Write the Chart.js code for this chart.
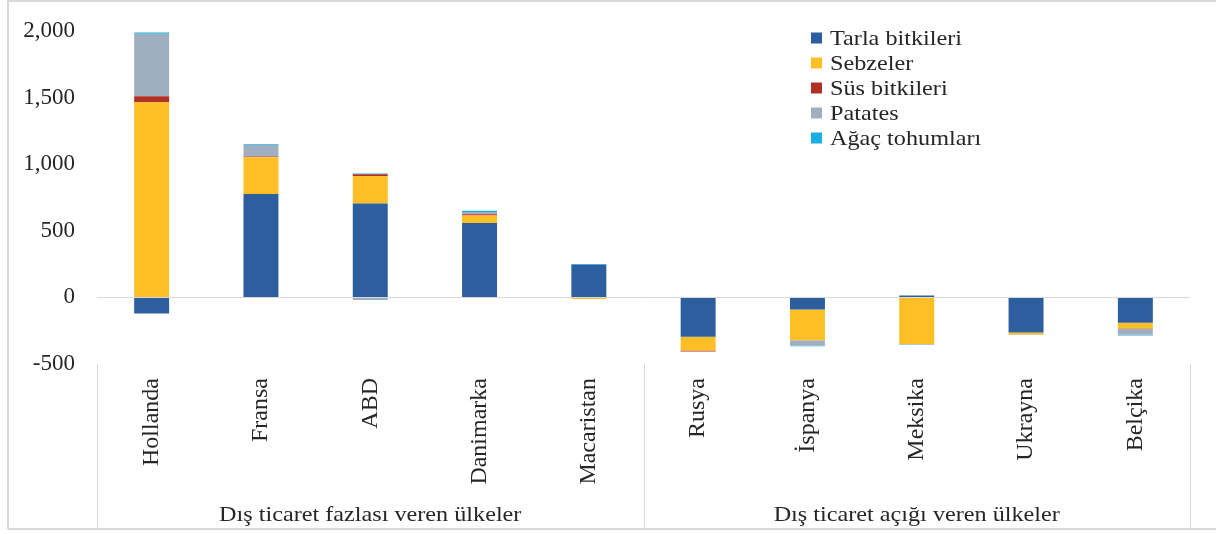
<!DOCTYPE html>
<html>
<head>
<meta charset="utf-8">
<script src="https://cdn.jsdelivr.net/npm/chart.js@4/dist/chart.umd.min.js"></script>
<style>
  html, body { margin: 0; padding: 0; background: #ffffff; }
  #wrap { width: 1216px; height: 534px; position: relative; }
</style>
</head>
<body>
<div id="wrap"><canvas id="c" width="1216" height="534"></canvas></div>
<script>
const categories = ["Hollanda", "Fransa", "ABD", "Danimarka", "Macaristan", "Rusya", "İspanya", "Meksika", "Ukrayna", "Belçika"];
const groupLabels = ["Dış ticaret fazlası veren ülkeler", "Dış ticaret açığı veren ülkeler"];
const groupSizes = [5, 5];
const seriesNames = ["Tarla bitkileri", "Sebzeler", "Süs bitkileri", "Patates", "Ağaç tohumları"];
const tarla    = [-120, 777, 705, 559, 246, -296, -90, 15, -263, -190];
const sebzeler = [1465, 276, 207, 55, -12, -103, -231, -351, -15, -43];
const sus      = [45, 4, 13, 10, 0, -8, 0, 0, 0, -5];
const patates  = [470, 88, -20, 17, 0, 0, -40, 0, -5, -43];
const agac     = [8, 5, 5, 10, 5, 0, -5, -5, 0, -5];
const yTicks = [-500, 0, 500, 1000, 1500, 2000];

const colors = ["#2D5F9E", "#FDBE26", "#B03224", "#A0AFC0", "#1BAEE2"];
const FONT = "'Liberation Serif', 'Times New Roman', serif";
const TEXT = "#262626";

const seriesValues = [tarla, sebzeler, sus, patates, agac];

function stretchedText(ctx, text, x, y, sx, align) {
  ctx.save();
  ctx.translate(x, y);
  ctx.scale(sx, 1);
  ctx.textAlign = align;
  ctx.fillText(text, 0, 0);
  ctx.restore();
}

const decorPlugin = {
  id: 'decor',
  afterDraw(chart) {
    const ctx = chart.ctx;
    const area = chart.chartArea;
    ctx.save();
    ctx.strokeStyle = '#d9d9d9';
    ctx.lineWidth = 2;
    ctx.beginPath();
    ctx.moveTo(8, 529);
    ctx.lineTo(8, 1);
    ctx.lineTo(1216, 1);
    ctx.moveTo(8, 529);
    ctx.lineTo(1216, 529);
    ctx.stroke();
    ctx.lineWidth = 1;
    ctx.strokeStyle = '#d9d9d9';
    const step = (area.right - area.left) / categories.length;
    let idx = 0;
    const bounds = [0];
    groupSizes.forEach(s => { idx += s; bounds.push(idx); });
    bounds.forEach(b => {
      const px = Math.round(area.left + b * step) + 0.5;
      ctx.beginPath();
      ctx.moveTo(px, area.bottom);
      ctx.lineTo(px, 529);
      ctx.stroke();
    });
    ctx.fillStyle = TEXT;
    ctx.font = "22px " + FONT;
    ctx.textBaseline = 'middle';
    for (let g = 0; g < groupLabels.length; g++) {
      const cx = area.left + (bounds[g] + bounds[g + 1]) / 2 * step;
      stretchedText(ctx, groupLabels[g], cx, 515, 1.1, 'center');
    }
    seriesNames.forEach((name, i) => {
      const cy = 38 + i * 25;
      ctx.fillStyle = colors[i];
      ctx.fillRect(811, cy - 5.5, 11, 11);
      ctx.fillStyle = TEXT;
      stretchedText(ctx, name, 830, cy + 1, 1.1, 'left');
    });
    ctx.restore();
  }
};

new Chart(document.getElementById('c'), {
  type: 'bar',
  data: {
    labels: categories,
    datasets: seriesNames.map((n, i) => ({
      label: n,
      data: seriesValues[i],
      backgroundColor: colors[i],
      borderWidth: 0,
      categoryPercentage: 1,
      barPercentage: 0.32
    }))
  },
  options: {
    responsive: false,
    animation: false,
    events: [],
    layout: { padding: { left: 8, top: 31, right: 26, bottom: 0 } },
    plugins: {
      legend: { display: false },
      tooltip: { enabled: false }
    },
    scales: {
      x: {
        stacked: true,
        grid: { display: false, drawTicks: false },
        border: { display: false },
        ticks: {
          color: TEXT,
          font: { family: FONT, size: 24 },
          minRotation: 90,
          maxRotation: 90,
          padding: 14,
          autoSkip: false
        },
        afterFit(s) { s.height = 170; s.paddingTop = 0; s.paddingBottom = 0; s.paddingLeft = 0; s.paddingRight = 0; }
      },
      y: {
        stacked: true,
        min: -500,
        max: 2000,
        afterBuildTicks(s) { s.ticks = yTicks.map(v => ({ value: v })); },
        grid: {
          drawTicks: false,
          color: c => (c.tick && c.tick.value === 0) ? '#d9d9d9' : 'rgba(0,0,0,0)',
          lineWidth: 1
        },
        border: { display: false },
        ticks: {
          color: TEXT,
          font: { family: FONT, size: 23 },
          padding: 22,
          callback: v => v.toLocaleString('en-US')
        },
        afterFit(s) { s.width = 89; s.paddingTop = 0; s.paddingBottom = 0; }
      }
    }
  },
  plugins: [decorPlugin]
});
</script>
</body>
</html>
